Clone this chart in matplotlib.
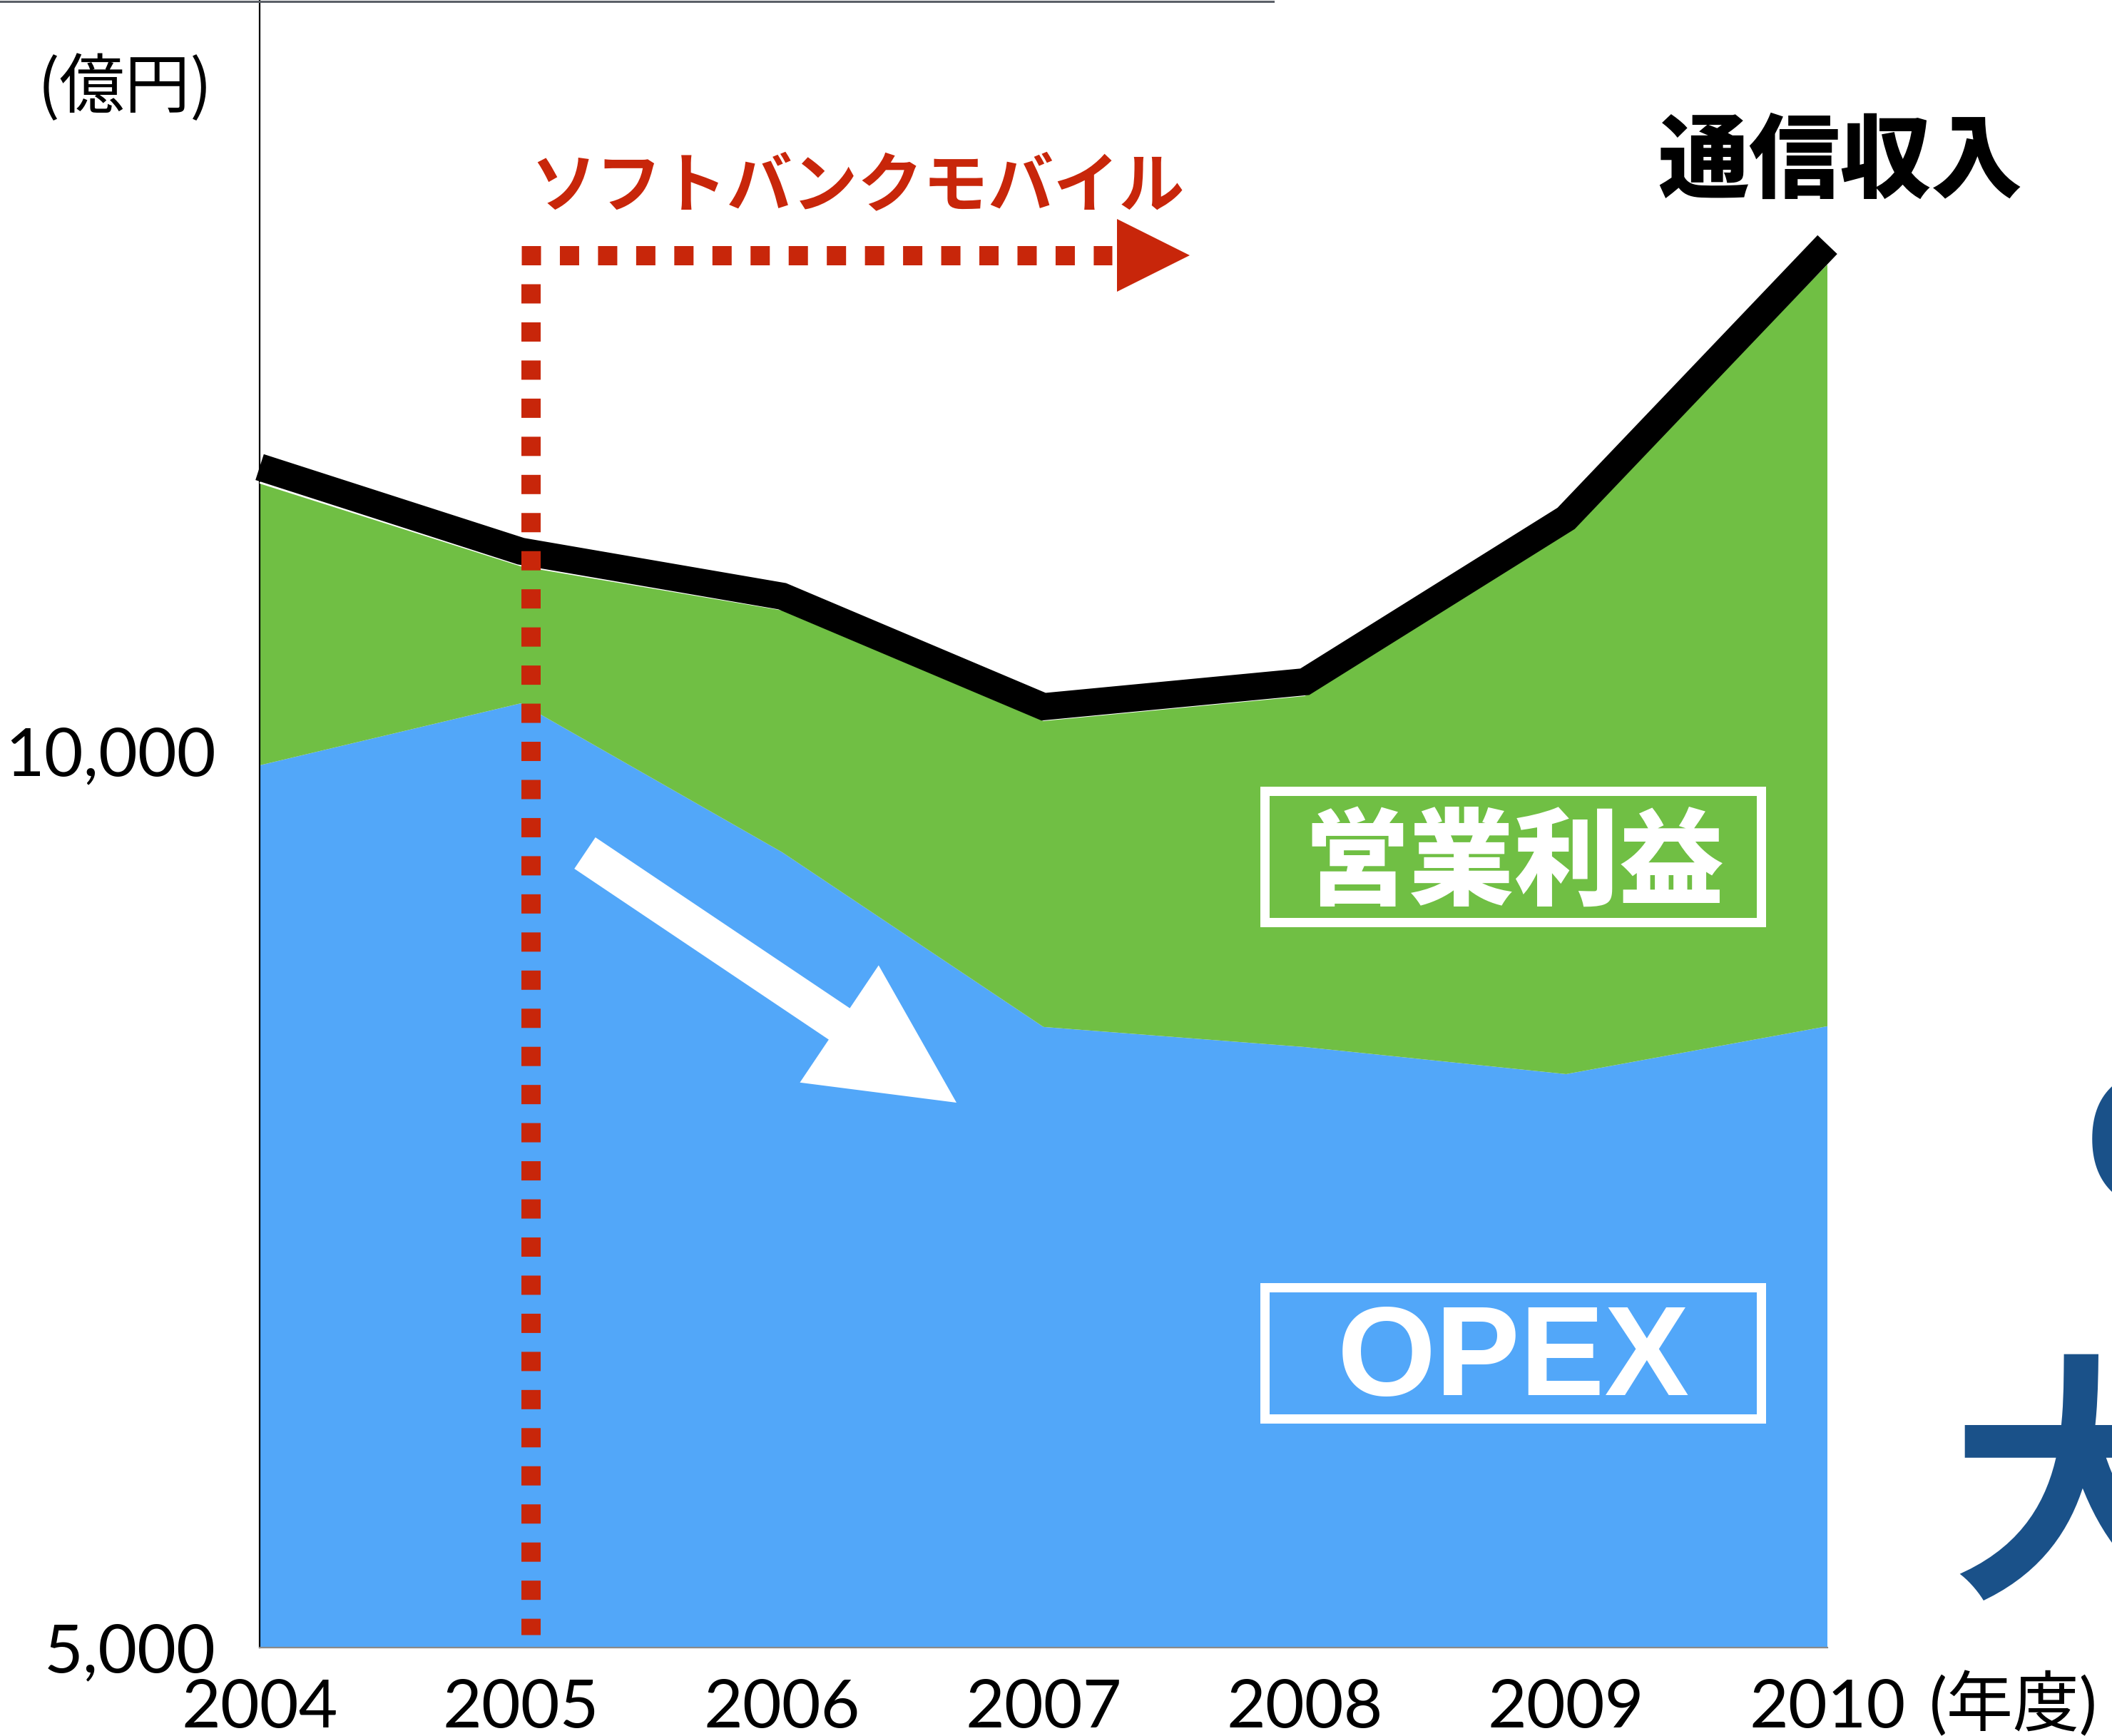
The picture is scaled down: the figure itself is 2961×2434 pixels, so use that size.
import numpy as np
import matplotlib
matplotlib.use('Agg')
from matplotlib import pyplot as plt
from matplotlib import patches, transforms, lines

W, H, DPI = 2961, 2434, 200

# data (億円)
years = [2004, 2005, 2006, 2007, 2008, 2009, 2010]
opex = [9920, 10266, 9435, 8461, 8349, 8198, 8465]
op_profit = [1576, 768, 1353, 1706, 1957, 3023, 4248]
revenue = [11583, 11114, 10863, 10247, 10386, 11297, 12824]
yticks = [5000, 10000]
ytick_labels = ['5,000', '10,000']
xtick_labels = [str(y) for y in years]

blue = '#52A7F9'
green = '#70BF44'
red = '#C8260A'
navy = '#1A5189'
jp = ['Noto Sans CJK JP', 'DejaVu Sans']
num = ['Lato', 'Noto Sans CJK JP']

fig = plt.figure(figsize=(W / DPI, H / DPI), dpi=DPI)
ax = fig.add_axes([364 / W, 1 - 2310 / H, (2562 - 364) / W, 2310 / H])
# helper: reference pixel coords (y from top) for the slide decorations
px = transforms.Affine2D().scale(1 / W, -1 / H).translate(0, 1) + fig.transFigure

ax.stackplot(years, opex, op_profit, colors=[blue, green], linewidth=0)
area_top = np.array(opex) + np.array(op_profit)
ax.plot(years[:3], area_top[:3], color='white', lw=0.8, zorder=3)
ax.plot(years, revenue, color='black', lw=13.7, solid_capstyle='butt',
        solid_joinstyle='miter', clip_on=False, zorder=4)

ax.set_xlim(2004, 2010)
ax.set_ylim(5000, 14188)
ax.set_xticks(years)
ax.set_xticklabels(xtick_labels, family=num)
ax.set_yticks(yticks)
ax.set_yticklabels(ytick_labels, family=num)
ax.tick_params(length=0, labelsize=34)
ax.tick_params(axis='x', pad=16)
ax.tick_params(axis='y', pad=22)
for s in ['top', 'right']:
    ax.spines[s].set_visible(False)
ax.spines['left'].set_color('black')
ax.spines['left'].set_linewidth(0.8)
ax.spines['bottom'].set_color('#8a8a8a')
ax.spines['bottom'].set_linewidth(0.8)
ax.set_facecolor('white')

# slide border line at the very top
fig.add_artist(lines.Line2D([0, 1785], [1.5, 1.5], transform=px, color='#5b6068', lw=1.1))

# red dotted bracket + arrow head
lw_r = 27 * 72 / DPI
fig.add_artist(lines.Line2D([744, 744], [398, 2292], transform=px, color=red, lw=lw_r,
                            dashes=(1, 0.98), dash_capstyle='butt', zorder=6))
fig.add_artist(lines.Line2D([731, 1559], [358, 358], transform=px, color=red, lw=lw_r,
                            dashes=(1, 0.98), dash_capstyle='butt', zorder=6))
fig.add_artist(patches.Polygon([[1566, 307], [1566, 409], [1668, 358]], closed=True,
                               transform=px, color=red, lw=0, zorder=6))
fig.text(1202, 263, 'ソフトバンクモバイル', transform=px, ha='center', va='center',
         fontsize=33, fontweight='bold', color=red, family=jp)

# white trend arrow
fig.add_artist(patches.FancyArrow(820, 1196, 521, 350, width=53, head_width=198, head_length=198,
                                  length_includes_head=True, transform=px, color='white', lw=0, zorder=5))

# boxed labels
for y0 in [1108.5, 1804.5]:
    fig.add_artist(patches.Rectangle((1772.5, y0), 696, 184, fill=False, ec='white',
                                     lw=13 * 72 / DPI, transform=px, zorder=5))
fig.text(2123, 1213, '営業利益', transform=px, ha='center', va='center',
         fontsize=53, fontweight='heavy', color='white', family=jp)
fig.text(2122, 1910, 'OPEX', transform=px, ha='center', va='center',
         fontsize=64, fontweight='bold', color='white', family=['Liberation Sans'])

fig.text(2580, 229, '通信収入', transform=px, ha='center', va='center',
         fontsize=46, fontweight='heavy', color='black', family=jp)
fig.text(175, 125, '(億円)', transform=px, ha='center', va='center',
         fontsize=33, color='black', family=jp)
fig.text(2705, 2390, '(年度)', transform=px, ha='left', va='center',
         fontsize=33.5, color='black', family=num)

# cut-off text at right edge of the slide
fig.text(2733, 2212, '大', transform=px, ha='left', va='baseline',
         fontsize=133, fontweight='bold', color=navy, family=jp)
fig.text(2922, 1692, 'O', transform=px, ha='left', va='baseline',
         fontsize=99, fontweight='bold', color=navy, family=['Liberation Sans'])

fig.savefig('out.png', dpi=DPI)
